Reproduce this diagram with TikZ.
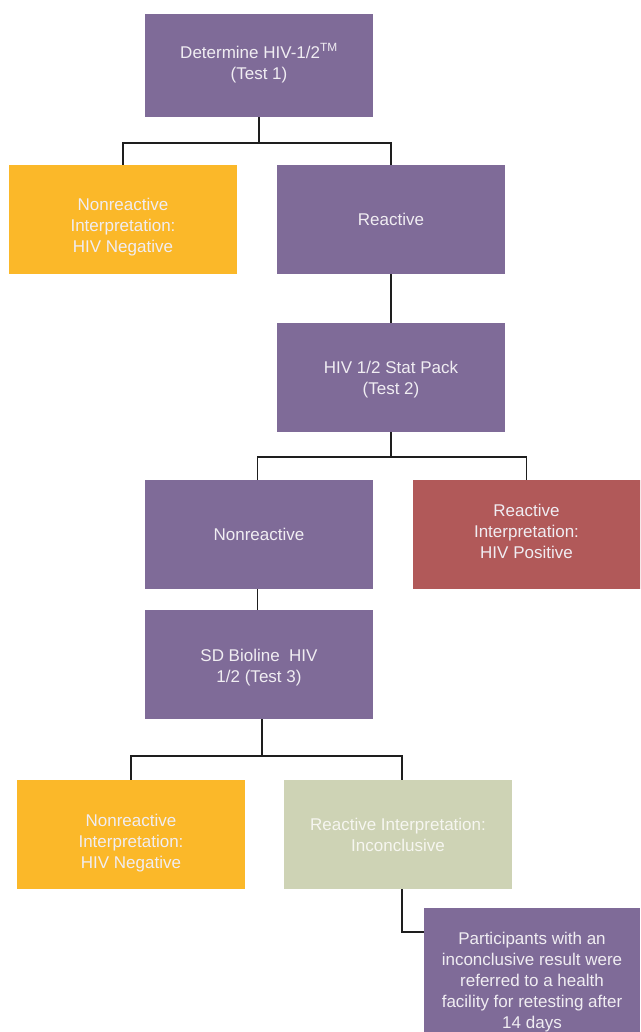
\documentclass[tikz,border=0pt]{standalone}
\usepackage{fontspec}
\setmainfont{Liberation Sans}
\usepackage{tikz}
\usepackage{xcolor}

\definecolor{testpurple}{HTML}{7F6B98}
\definecolor{negorange}{HTML}{FBB829}
\definecolor{posred}{HTML}{B15959}
\definecolor{incgreen}{HTML}{CED3B5}
\definecolor{boxtext}{HTML}{F0EDF2}
\definecolor{inctext}{HTML}{F6F6F0}
\definecolor{linkgray}{HTML}{1E1E1E}

% struts to nudge the text of a box down (top) or up (bottom)
\newcommand{\topstrut}[1]{\rule{0pt}{#1}}
\newcommand{\botstrut}[1]{\rule[-#1]{0pt}{0pt}}

\begin{document}
\begin{tikzpicture}[x=1pt,y=-1pt,
    box/.style={rectangle, minimum width=228pt, minimum height=109pt, inner sep=3pt,
                align=center, text=boxtext, font=\fontsize{17}{21}\selectfont},
    link/.style={draw=linkgray, line width=1.6pt}]

        % Page size
        \useasboundingbox (0,0) rectangle (640,1032);
        \clip (0,0) rectangle (640,1032);

        % Test 1
        \node[box, fill=testpurple, minimum height=103pt] (det) at (259,65.5)
            {Determine HIV-1/2\textsuperscript{TM}\\(Test 1)\botstrut{8pt}};

        % Results of test 1
        \node[box, fill=negorange] (neg1) at (123,219.5)
            {\topstrut{28pt}Nonreactive\\Interpretation:\\HIV Negative};
        \node[box, fill=testpurple] (reac) at (391,219.5) {Reactive};

        % Test 2
        \node[box, fill=testpurple] (stat) at (391,377.5)
            {\topstrut{16.5pt}HIV 1/2 Stat Pack\\(Test 2)};

        % Results of test 2
        \node[box, fill=testpurple] (nonr) at (259,534.5) {Nonreactive};
        \node[box, fill=posred] (pos) at (526.5,534.5)
            {Reactive\\Interpretation:\\HIV Positive\botstrut{6pt}};

        % Test 3
        \node[box, fill=testpurple] (sdb) at (259,664.5)
            {\topstrut{19.5pt}SD Bioline\ \ HIV\\1/2 (Test 3)};

        % Results of test 3
        \node[box, fill=negorange] (neg2) at (131,834.5)
            {\topstrut{29pt}Nonreactive\\Interpretation:\\HIV Negative};
        \node[box, fill=incgreen, text=inctext] (inc) at (398,834.5)
            {Reactive Interpretation:\\Inconclusive};

        % Follow-up
        \node[box, fill=testpurple, minimum width=216pt, minimum height=144pt] (part) at (532,980)
            {\topstrut{17.5pt}Participants with an\\inconclusive result were\\referred to a health\\facility for retesting after\\14 days};

        % Connectors
        \draw[link] (det.south) -- ++(0,26) coordinate (j1);
        \draw[link] (neg1.north) |- (j1) -| (reac.north);
        \draw[link] (reac) -- (stat);
        \draw[link] (stat.south) -- ++(0,24.7) coordinate (j2);
        \draw[link] ([xshift=-1.7pt]nonr.north) |- (j2) -| (pos.north);
        \draw[link] ([xshift=-1.7pt]nonr.south) -- ([xshift=-1.7pt]sdb.north);
        \draw[link] ([xshift=2.7pt]sdb.south) -- ++(0,37) coordinate (j3);
        \draw[link] (neg2.north) |- (j3) -| ([xshift=4pt]inc.north);
        \draw[link] ([xshift=4pt]inc.south) |- ([yshift=-24pt]part.north west);

\end{tikzpicture}
\end{document}
